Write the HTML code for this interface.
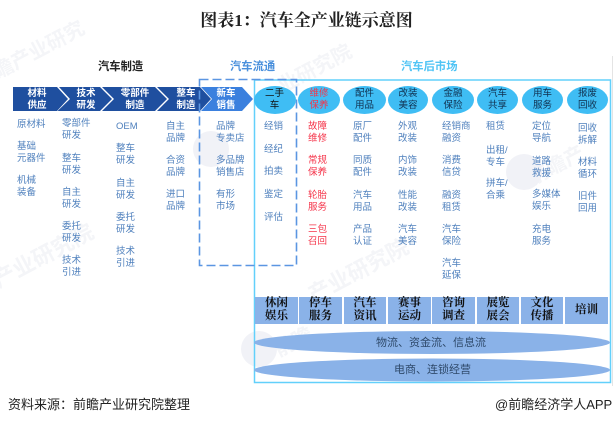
<!DOCTYPE html>
<html><head><meta charset="utf-8"><style>
html,body{margin:0;padding:0;background:#fff}
#p{position:relative;width:613px;height:425px;overflow:hidden;font-family:"Liberation Sans","Noto Sans CJK SC",sans-serif}
#p div{position:absolute;white-space:pre}
.t{font-size:9.5px;line-height:11.5px;color:#4f80bd}
.r{font-size:9.5px;line-height:11.5px;color:#f5344a}
.a{font-size:9.5px;line-height:11.5px;color:#fff;font-weight:700;text-align:center}
.e{font-size:9.5px;line-height:11.5px;color:#10304f;text-align:center;background:#3fbdf4;border-radius:50%;padding-top:2.5px;box-sizing:border-box;height:28px;top:85.5px}
.c{background:#8ab2e8;top:297px;height:26.5px;font-size:11.5px;line-height:13px;font-weight:700;color:#111;text-align:center;font-family:"Liberation Serif","Noto Serif CJK SC",serif}
.h{font-size:11.3px;font-weight:700;line-height:14px;top:59.5px}
.w{color:#f4f5f8;font-size:20px;font-weight:700;transform:rotate(-28deg);transform-origin:0 50%;line-height:28px}
.g{background:#f1f2f7;border-radius:50%;width:36px;height:36px}
</style></head><body><div id="p">

<div class="w" style="left:-5px;top:60px">瞻产业研究</div>
<div class="w" style="left:280px;top:74px">业研究院</div>
<div class="w" style="left:-5px;top:268px;font-size:22px">产业研究院</div>
<div class="w" style="left:310px;top:283px;font-size:22px">产业研究院</div>
<div class="w" style="left:530px;top:166px">前瞻产</div>
<div class="w" style="left:276px;top:338px">前瞻</div>
<div class="g" style="left:193px;top:131px"></div>
<div class="g" style="left:506px;top:154px"></div>
<div class="g" style="left:241px;top:331px"></div>
<div style="left:612px;top:56px;width:1px;height:330px;background:#e4e4e4"></div>

<div style="left:0;top:9px;width:613px;text-align:center;font-family:'Liberation Serif','Noto Serif CJK SC',serif;font-size:17px;line-height:24px;font-weight:700;color:#222">图表1：汽车全产业链示意图</div>

<div class="h" style="left:98px;color:#222">汽车制造</div>
<div class="h" style="left:230px;color:#4a90dc">汽车流通</div>
<div class="h" style="left:401px;color:#50c4f5">汽车后市场</div>

<svg style="position:absolute;left:0;top:0" width="613" height="425">
<polygon points="13,87 57,87 68,99 57,111 13,111" fill="#1f4f9f"/>
<polygon points="59,87 100,87 112,99 100,111 57.5,111 70,99" fill="#1f4f9f"/>
<polygon points="102,87 155,87 167,99 155,111 102,111 114,99" fill="#1f4f9f"/>
<polygon points="157,87 200,87 211,99 200,111 157,111 169,99" fill="#1f4f9f"/>
<polygon points="201,87 242,87 253,99 242,111 201,111 212,99" fill="#3b80de"/>
<path d="M254.5 80H610.5V382.5H254.5Z" fill="none" stroke="#62d0fb" stroke-width="1.5"/>
<rect x="199.5" y="79.5" width="97" height="186" fill="none" stroke="#5b96e2" stroke-width="1.6" stroke-dasharray="9 4"/>
<ellipse cx="432" cy="342.5" rx="178" ry="11.5" fill="#8ab2e8"/>
<ellipse cx="432" cy="370" rx="178" ry="11.5" fill="#8ab2e8"/>
</svg>

<div class="a" style="left:13px;top:88px;width:48px">材料
供应</div>
<div class="a" style="left:68px;top:88px;width:36px">技术
研发</div>
<div class="a" style="left:113px;top:88px;width:44px">零部件
制造</div>
<div class="a" style="left:168px;top:88px;width:36px">整车
制造</div>
<div class="a" style="left:210px;top:88px;width:32px">新车
销售</div>

<div class="e" style="left:253.5px;width:42px;color:#111">二手
车</div>
<div class="e" style="left:298px;width:42px;color:#f5344a">维修
保养</div>
<div class="e" style="left:343px;width:43px">配件
用品</div>
<div class="e" style="left:388px;width:40px">改装
美容</div>
<div class="e" style="left:432px;width:42px">金融
保险</div>
<div class="e" style="left:477px;width:41px">汽车
共享</div>
<div class="e" style="left:522px;width:41px">用车
服务</div>
<div class="e" style="left:567px;width:41px">报废
回收</div>

<div class="t" style="left:17px;top:119px">原材料</div>
<div class="t" style="left:17px;top:141px">基础
元器件</div>
<div class="t" style="left:17px;top:175px">机械
装备</div>

<div class="t" style="left:62px;top:118px">零部件
研发</div>
<div class="t" style="left:62px;top:153px">整车
研发</div>
<div class="t" style="left:62px;top:187px">自主
研发</div>
<div class="t" style="left:62px;top:221px">委托
研发</div>
<div class="t" style="left:62px;top:255px">技术
引进</div>

<div class="t" style="left:116px;top:121px">OEM</div>
<div class="t" style="left:116px;top:143px">整车
研发</div>
<div class="t" style="left:116px;top:178px">自主
研发</div>
<div class="t" style="left:116px;top:212px">委托
研发</div>
<div class="t" style="left:116px;top:246px">技术
引进</div>

<div class="t" style="left:166px;top:121px">自主
品牌</div>
<div class="t" style="left:166px;top:155px">合资
品牌</div>
<div class="t" style="left:166px;top:189px">进口
品牌</div>

<div class="t" style="left:216px;top:121px">品牌
专卖店</div>
<div class="t" style="left:216px;top:155px">多品牌
销售店</div>
<div class="t" style="left:216px;top:189px">有形
市场</div>

<div class="t" style="left:264px;top:121px">经销</div>
<div class="t" style="left:264px;top:144px">经纪</div>
<div class="t" style="left:264px;top:166px">拍卖</div>
<div class="t" style="left:264px;top:189px">鉴定</div>
<div class="t" style="left:264px;top:212px">评估</div>

<div class="r" style="left:308px;top:121px">故障
维修</div>
<div class="r" style="left:308px;top:155px">常规
保养</div>
<div class="r" style="left:308px;top:190px">轮胎
服务</div>
<div class="r" style="left:308px;top:224px">三包
召回</div>

<div class="t" style="left:353px;top:121px">原厂
配件</div>
<div class="t" style="left:353px;top:155px">同质
配件</div>
<div class="t" style="left:353px;top:190px">汽车
用品</div>
<div class="t" style="left:353px;top:224px">产品
认证</div>

<div class="t" style="left:398px;top:121px">外观
改装</div>
<div class="t" style="left:398px;top:155px">内饰
改装</div>
<div class="t" style="left:398px;top:190px">性能
改装</div>
<div class="t" style="left:398px;top:224px">汽车
美容</div>

<div class="t" style="left:442px;top:121px">经销商
融资</div>
<div class="t" style="left:442px;top:155px">消费
信贷</div>
<div class="t" style="left:442px;top:190px">融资
租赁</div>
<div class="t" style="left:442px;top:224px">汽车
保险</div>
<div class="t" style="left:442px;top:258px">汽车
延保</div>

<div class="t" style="left:486px;top:121px">租赁</div>
<div class="t" style="left:486px;top:145px">出租/
专车</div>
<div class="t" style="left:486px;top:178px">拼车/
合乘</div>

<div class="t" style="left:532px;top:121px">定位
导航</div>
<div class="t" style="left:532px;top:156px">道路
救援</div>
<div class="t" style="left:532px;top:189px">多媒体
娱乐</div>
<div class="t" style="left:532px;top:224px">充电
服务</div>

<div class="t" style="left:578px;top:123px">回收
拆解</div>
<div class="t" style="left:578px;top:157px">材料
循环</div>
<div class="t" style="left:578px;top:191px">旧件
回用</div>

<div class="c" style="left:255px;width:43px">休闲
娱乐</div>
<div class="c" style="left:299px;width:43px">停车
服务</div>
<div class="c" style="left:344px;width:42px">汽车
资讯</div>
<div class="c" style="left:388px;width:43px">赛事
运动</div>
<div class="c" style="left:432px;width:43px">咨询
调查</div>
<div class="c" style="left:477px;width:42px">展览
展会</div>
<div class="c" style="left:521px;width:42px">文化
传播</div>
<div class="c" style="left:565px;width:43px;line-height:26.5px">培训</div>

<div style="left:376px;top:336px;font-size:11px;line-height:14px;color:#2f4a6b">物流、资金流、信息流</div>
<div style="left:394px;top:363px;font-size:11px;line-height:14px;color:#2f4a6b">电商、连锁经营</div>

<div style="left:8px;top:396px;font-size:13px;line-height:17px;color:#222">资料来源：前瞻产业研究院整理</div>
<div style="left:495px;top:396px;font-size:13px;line-height:17px;color:#222">@前瞻经济学人APP</div>

</div></body></html>
